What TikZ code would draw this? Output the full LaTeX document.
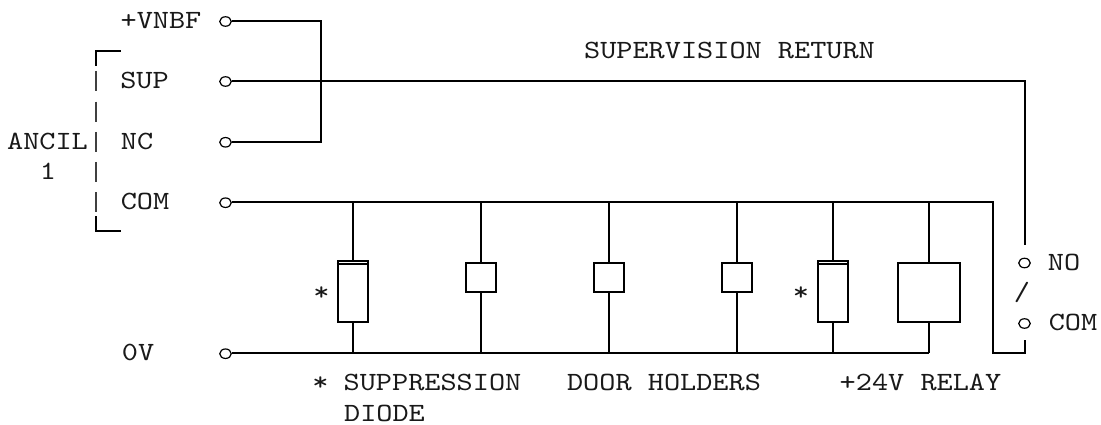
\documentclass[tikz,border=0pt]{standalone}
\usepackage{fontspec}
\newfontfamily\diagmono[Extension=.otf, FakeStretch=1.17]{lmmono10-regular}
\usetikzlibrary{shapes.geometric}
\begin{document}
\begin{tikzpicture}[x=1pt,y=-1pt,
  wire/.style={line width=2pt},
  bar/.style={line width=1.3pt, black!75},
  term/.style={ellipse, draw, line width=1.2pt, minimum width=11.5pt, minimum height=9.5pt, inner sep=0pt},
  lbl/.style={font=\diagmono\fontsize{26.3}{30}\selectfont, inner sep=0pt, anchor=base, text=black!90},
  coil/.style={rectangle, draw, line width=2pt, inner sep=0pt}
]
\fill[white] (0,0) rectangle (1101,425);
\useasboundingbox (0,0) rectangle (1101,425);

% labels
\node[lbl] (lvnbf) at (161,28.5) {+VNBF};
\node[lbl] (lsup) at (144.5,88.5) {SUP};
\node[lbl] (lnc) at (137,149.3) {NC};
\node[lbl] (lcom) at (145,209.7) {COM};
\node[lbl] (lancil) at (47.5,149.3) {ANCIL};
\node[lbl] (lone) at (48,179.5) {1};
\node[lbl] (lzero) at (138,360.7) {0V};
\node[lbl] (lsr) at (729.5,58.7) {SUPERVISION RETURN};
\node[lbl] (lastb) at (320.5,390.9) {*};
\node[lbl] (lsupp) at (432.5,390.9) {SUPPRESSION};
\node[lbl] (ldoor) at (664,390.9) {DOOR HOLDERS};
\node[lbl] (lrelay) at (920.5,390.9) {+24V RELAY};
\node[lbl] (ldiode) at (384.5,421.1) {DIODE};
\node[lbl] (asta) at (321.5,300.3) {*};
\node[lbl] (astb) at (801,300.3) {*};
\node[lbl] (lno) at (1064,270.1) {NO};
\node[lbl] (lslash) at (1022,300.3) {/};
\node[lbl] (lcomb) at (1073,330.5) {COM};

% terminals
\node[term] (tv) at (225.5,21.5) {};
\node[term] (ts) at (225.5,81.5) {};
\node[term] (tn) at (225.5,142.3) {};
\node[term] (tc) at (225.5,202.7) {};
\node[term] (tz) at (225.5,353.7) {};
\node[term] (tno) at (1024.5,263) {};
\node[term] (tcm) at (1024.5,323.5) {};

% bracket
\draw[wire] (120.7,51.5) -- (96,51.5) -- (96,66.5);
\draw[wire] (96,216) -- (96,231) -- (120.7,231);
\foreach \yy in {81,111.6,141.8,172,202.2}
  \draw[bar] (96,\yy-10) -- (96,\yy+10);

% coordinates
\coordinate (jv) at (321,21);
\coordinate (sr) at (1025,81);
\coordinate (swtop) at (1025,245);
\coordinate (cr) at (993,202.2);
\coordinate (lp) at (993,353.2);
\coordinate (swbot) at (1025,339.5);
\coordinate (zr) at (929,353.2);

% wires
\draw[wire] (tv.east |- jv) -- (jv) |- (tn.east |- 0,141.8);
\draw[wire] (ts.east |- sr) -- (sr) -- (swtop);
\draw[wire] (tc.east |- cr) -- (cr) -- (lp) -| (swbot);
\draw[wire] (tz.east |- zr) -- (zr);

% loads
\node[coil, minimum width=30.6pt, minimum height=61.6pt] (d1) at (353,291.5) {};
\node[coil, minimum width=30pt, minimum height=29pt] (h1) at (481,277.5) {};
\node[coil, minimum width=30pt, minimum height=29pt] (h2) at (609,277.5) {};
\node[coil, minimum width=30pt, minimum height=29pt] (h3) at (737,277.5) {};
\node[coil, minimum width=30.6pt, minimum height=61.6pt] (d2) at (833,291.5) {};
\node[coil, minimum width=62pt, minimum height=59.6pt] (rl) at (929,292.5) {};

\draw[wire] ([yshift=-4.6pt]d1.north west) -- ([yshift=-4.6pt]d1.north east);
\draw[wire] ([yshift=-4.6pt]d2.north west) -- ([yshift=-4.6pt]d2.north east);

\foreach \b in {d1,h1,h2,h3,d2,rl} {
  \draw[wire] (\b.north) -- (\b.north |- cr);
  \draw[wire] (\b.south) -- (\b.south |- zr);
}
\end{tikzpicture}
\end{document}
